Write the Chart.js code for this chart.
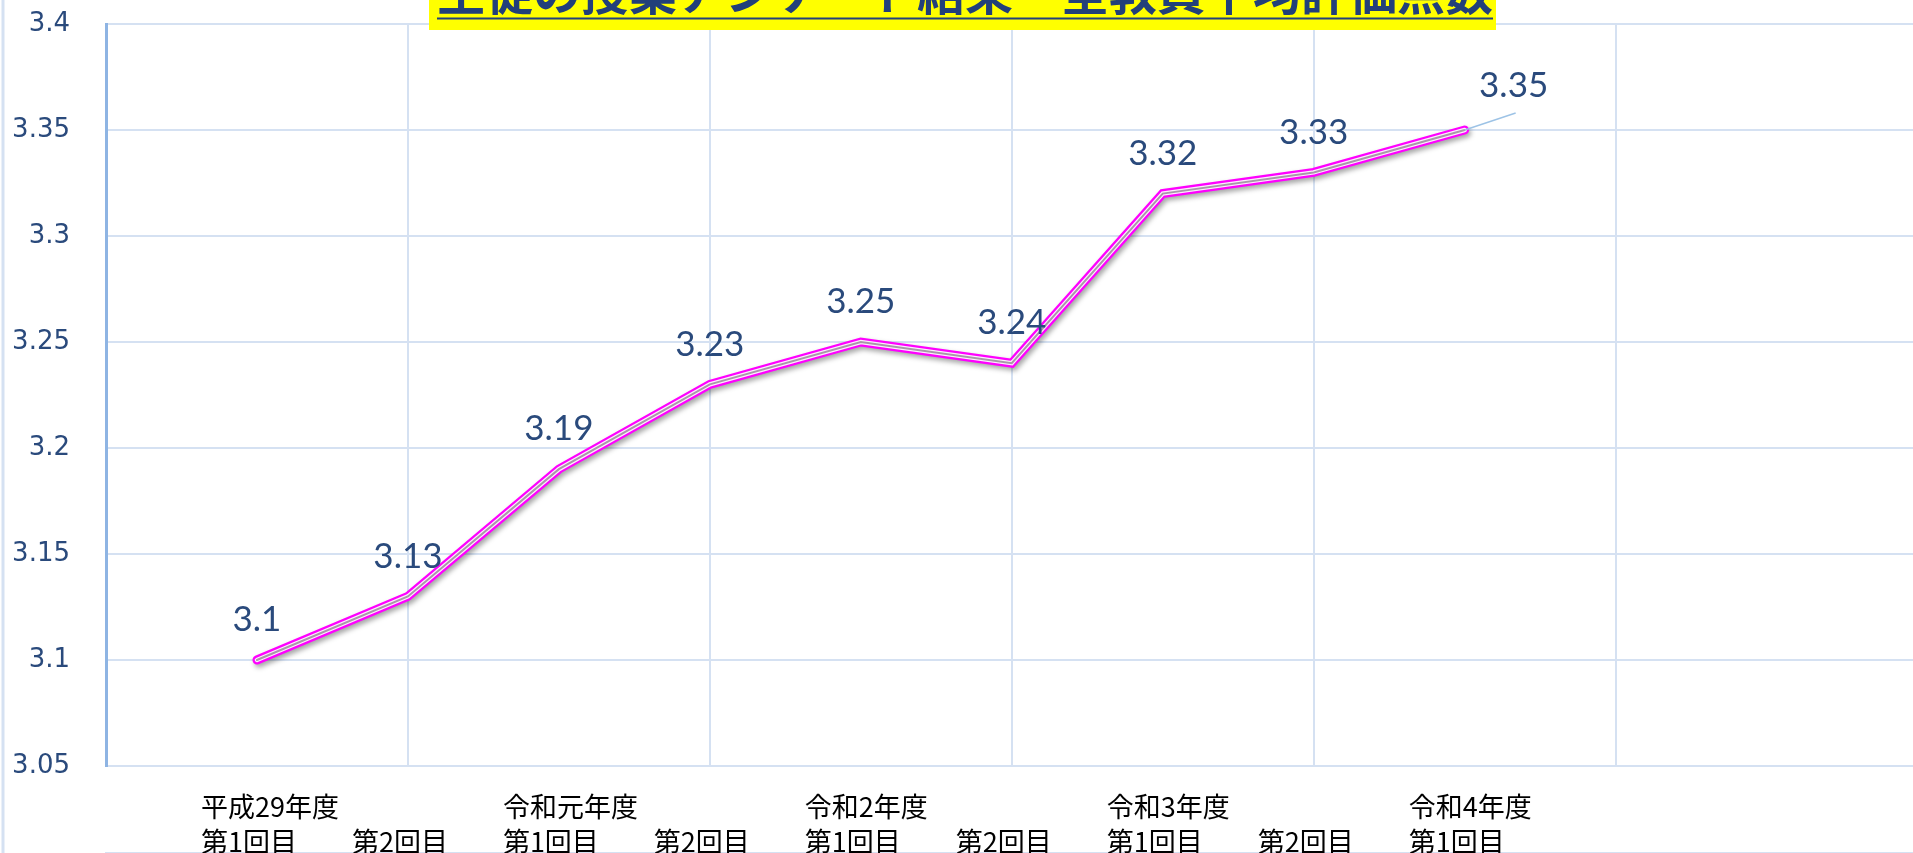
<!DOCTYPE html>
<html>
<head>
<meta charset="utf-8">
<script src="https://cdn.jsdelivr.net/npm/chart.js@4.4.1/dist/chart.umd.min.js"></script>
<style>
  html, body { margin: 0; padding: 0; background: #fff; overflow: hidden; }
  #wrap { width: 1913px; height: 853px; position: relative; }
</style>
</head>
<body>
<div id="wrap"><canvas id="grafik"></canvas></div>
<script>
// データ
const periods = ['平成29年度', '', '令和元年度', '', '令和2年度', '', '令和3年度', '', '令和4年度'];
const rounds = ['第1回目', '第2回目', '第1回目', '第2回目', '第1回目', '第2回目', '第1回目', '第2回目', '第1回目'];
const scores = [3.10, 3.13, 3.19, 3.23, 3.25, 3.24, 3.32, 3.33, 3.35];
const yTickValues = [3.05, 3.1, 3.15, 3.2, 3.25, 3.3, 3.35, 3.4];
const gridSteps = [0, 2, 4, 6, 8, 10];
const titleText = '生徒の授業アンケート結果　全教員平均評価点数';

const points = scores.map((v, i) => ({ x: i + 1, y: v }));
const gridColor = '#D5E1F2';
const textBlue = '#2A4A7C';

// 左端の枠線 + タイトル (上にはみ出している)
const framePlugin = {
    id: 'frame',
    beforeDraw(chart) {
        const c = chart.ctx;
        c.save();
        c.strokeStyle = gridColor;
        c.lineWidth = 3;
        c.beginPath();
        c.moveTo(3, 0);
        c.lineTo(3, chart.height);
        c.stroke();
        c.restore();
    },
    afterDraw(chart) {
        const c = chart.ctx;
        c.save();
        c.fillStyle = '#FFFF00';
        c.fillRect(429, 0, 1067, 30);
        c.font = 'bold 48px "Noto Sans CJK JP"';
        c.fillStyle = '#22407A';
        c.textAlign = 'center';
        c.textBaseline = 'ideographic';
        c.fillText(titleText, 965, 16);
        const w = c.measureText(titleText).width;
        c.fillRect(965 - w / 2, 17.5, w, 2);
        c.restore();
    }
};

// 線の影
const shadowPlugin = {
    id: 'lineShadow',
    beforeDatasetDraw(chart, args) {
        if (args.index !== 0) return;
        const c = chart.ctx;
        c.save();
        c.shadowColor = 'rgba(0,0,0,0.35)';
        c.shadowBlur = 5;
        c.shadowOffsetX = 2;
        c.shadowOffsetY = 3;
    },
    afterDatasetDraw(chart, args) {
        if (args.index !== 0) return;
        chart.ctx.restore();
    }
};

// データラベル
const labelPlugin = {
    id: 'valueLabels',
    afterDatasetsDraw(chart) {
        const c = chart.ctx;
        const meta = chart.getDatasetMeta(0);
        c.save();
        c.font = '35px Lato';
        c.fillStyle = textBlue;
        c.textAlign = 'center';
        c.textBaseline = 'middle';
        meta.data.forEach((pt, i) => {
            const txt = String(scores[i]);
            if (i === scores.length - 1) {
                // 最後だけ引き出し線付き
                c.strokeStyle = '#9DC3E6';
                c.lineWidth = 1.5;
                c.beginPath();
                c.moveTo(pt.x, pt.y);
                c.lineTo(pt.x + 51, pt.y - 17);
                c.stroke();
                c.fillText(txt, pt.x + 49, pt.y - 44);
            } else {
                c.fillText(txt, pt.x, pt.y - 40);
            }
        });
        c.restore();
    }
};

const lineBase = {
    data: points,
    pointRadius: 0,
    borderCapStyle: 'round',
    borderJoinStyle: 'miter',
    tension: 0,
    fill: false
};

new Chart(document.getElementById('grafik'), {
    type: 'line',
    data: {
        datasets: [
            Object.assign({}, lineBase, { label: '平均評価点数', borderColor: '#FF00FF', borderWidth: 9, order: 3 }),
            Object.assign({}, lineBase, { label: 'inner', borderColor: '#FCEEFC', borderWidth: 4.5, order: 2 }),
            Object.assign({}, lineBase, { label: 'core', borderColor: '#A898A8', borderWidth: 2, order: 1 })
        ]
    },
    options: {
        responsive: true,
        maintainAspectRatio: false,
        animation: false,
        layout: { padding: 0 },
        plugins: { legend: { display: false }, tooltip: { enabled: false } },
        scales: {
            x: {
                type: 'linear',
                min: 0,
                max: 11.97,
                weight: 1,
                afterBuildTicks: s => { s.ticks = gridSteps.map(v => ({ value: v })); },
                grid: {
                    color: ctx => (ctx.tick && ctx.tick.value === 0) ? 'rgba(0,0,0,0)' : gridColor,
                    lineWidth: 2,
                    drawTicks: false
                },
                border: { color: gridColor, width: 2 },
                ticks: { display: false }
            },
            xLabels: {
                type: 'linear',
                position: 'bottom',
                min: 0,
                max: 11.97,
                weight: 0,
                afterBuildTicks: s => { s.ticks = scores.map((v, i) => ({ value: i + 1 })); },
                afterFit: s => { s.height = 87; },
                grid: { display: false },
                border: { display: false },
                ticks: {
                    autoSkip: false,
                    maxRotation: 0,
                    align: 'start',
                    labelOffset: -56,
                    padding: 15,
                    color: '#000',
                    font: { family: '"Noto Sans CJK JP"', size: 27, lineHeight: 1.3 },
                    callback: (v, i) => [periods[i], rounds[i]]
                }
            },
            y: {
                min: 3.05,
                max: 3.4,
                afterBuildTicks: s => { s.ticks = yTickValues.map(v => ({ value: v })); },
                afterFit: s => { s.width = 106; s.paddingTop = 24; s.paddingBottom = 0; },
                grid: { color: gridColor, lineWidth: 2, drawTicks: false },
                border: { color: '#8EB4E3', width: 3 },
                ticks: {
                    padding: 36,
                    color: textBlue,
                    font: { family: '"DejaVu Sans"', size: 26 },
                    callback: v => String(parseFloat(v.toFixed(2)))
                }
            }
        }
    },
    plugins: [framePlugin, shadowPlugin, labelPlugin]
});
</script>
</body>
</html>
